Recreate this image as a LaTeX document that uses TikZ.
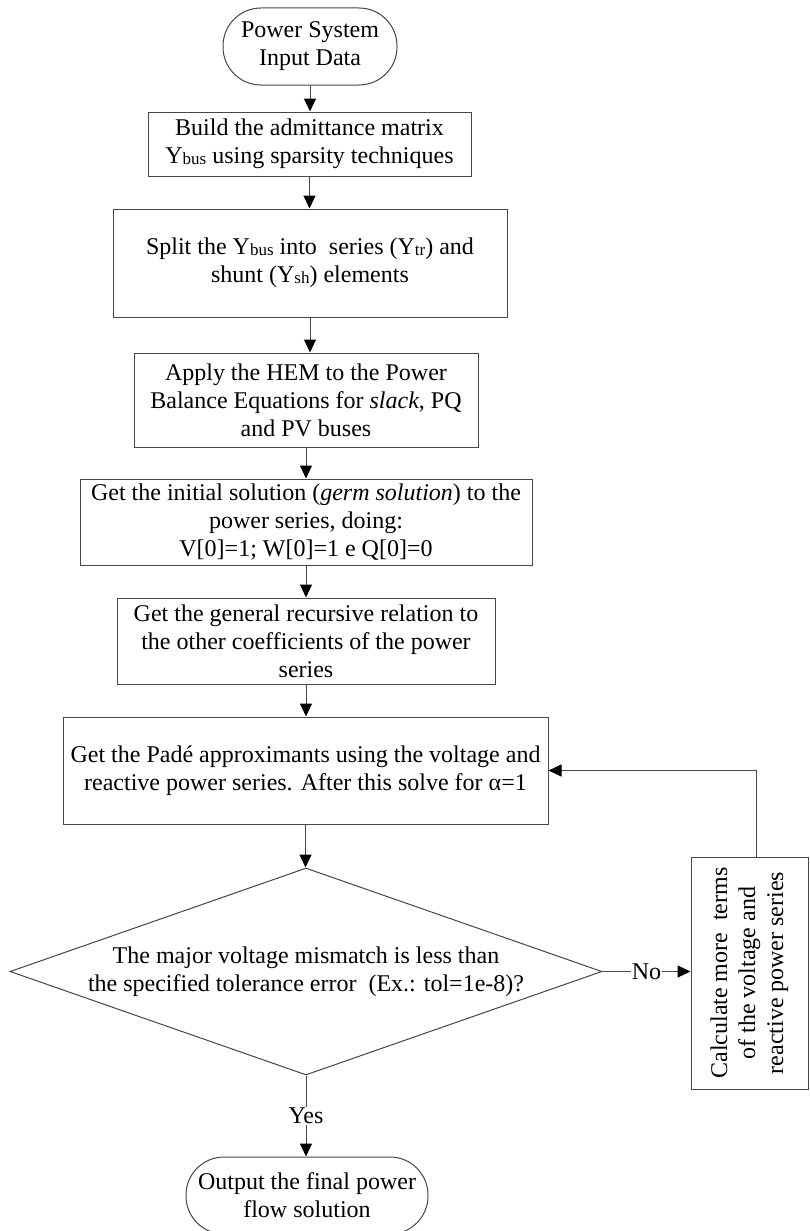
\documentclass[tikz,border=0pt]{standalone}
\usepackage{fontspec}
\setmainfont{Liberation Serif}
\usetikzlibrary{arrows.meta,shapes.geometric}
\definecolor{linecol}{RGB}{70,70,70}
\newcommand\sbs[1]{\raisebox{-1pt}{\fontsize{17}{17}\selectfont #1}}
\tikzset{
  base/.style={draw=linecol, line width=1pt, font=\fontsize{24}{28}\selectfont, align=center, inner sep=0pt},
  boxnode/.style={base, rectangle},
  termnode/.style={base, rectangle, rounded corners=38pt},
  decnode/.style={base, diamond, aspect=2.86, minimum width=592pt, minimum height=207pt},
  arr/.style={draw=linecol, line width=1pt, -{Triangle[length=13pt,width=12pt,color=black]}},
  lbl/.style={font=\fontsize{24}{28}\selectfont, fill=white, inner sep=1pt}
}
\begin{document}
\begin{tikzpicture}[x=1pt,y=-1pt]
\useasboundingbox (0,0) rectangle (809,1231);
\node[termnode, minimum width=174pt, minimum height=77pt] (start) at (310,46.5) {Power System\\Input Data};
\node[boxnode, minimum width=323pt, minimum height=64pt] (b1) at (309.5,144) {Build the admittance matrix\\Y\sbs{bus} using sparsity techniques};
\node[boxnode, minimum width=394pt, minimum height=108pt] (b2) at (310,263) {Split the Y\sbs{bus} into\ \ series (Y\sbs{tr}) and\\shunt (Y\sbs{sh}) elements};
\node[boxnode, minimum width=344pt, minimum height=94pt] (b3) at (306,400) {Apply the HEM to the Power\\Balance Equations for \textit{slack}, PQ\\and PV buses};
\node[boxnode, minimum width=452pt, minimum height=86pt] (b4) at (306,522) {Get the initial solution (\textit{germ solution}) to the\\power series, doing:\\V[0]=1; W[0]=1 e Q[0]=0};
\node[boxnode, minimum width=378pt, minimum height=86pt] (b5) at (306,641) {Get the general recursive relation to\\the other coefficients of the power\\series};
\node[boxnode, minimum width=485pt, minimum height=107pt] (b6) at (305.5,770.5) {Get the Padé approximants using the voltage and\\reactive power series. After this solve for α=1};
\node[decnode] (dec) at (306,971.5) {The major voltage mismatch is less than\\the specified tolerance error\ \ (Ex.: tol=1e-8)?};
\node[boxnode, minimum width=117pt, minimum height=232pt] (calc) at (749.5,973) {\rotatebox{90}{\begin{tabular}{@{}c@{}}Calculate more\ \ terms\\of the voltage and\\reactive power series\end{tabular}}};
\node[termnode, minimum width=242pt, minimum height=77pt] (stop) at (307,1195.5) {Output the final power\\flow solution};

\draw[arr] (start.south) -- (start.south |- b1.north);
\draw[arr] (b1.south) -- (b1.south |- b2.north);
\draw[arr] (b2.south) -- (b2.south |- b3.north);
\draw[arr] (b3.south) -- (b3.south |- b4.north);
\draw[arr] (b4.south) -- (b4.south |- b5.north);
\draw[arr] (b5.south) -- (b5.south |- b6.north);
\draw[arr] (b6.south) -- (b6.south |- dec.north);
\draw[arr] (dec.south) -- node[lbl] (yes) {Yes} (dec.south |- stop.north);
\draw[arr] (dec.east) -- node[lbl] (no) {No} (dec.east -| calc.west);
\draw[arr] ([xshift=6.5pt]calc.north) |- (b6.east);
\end{tikzpicture}
\end{document}
